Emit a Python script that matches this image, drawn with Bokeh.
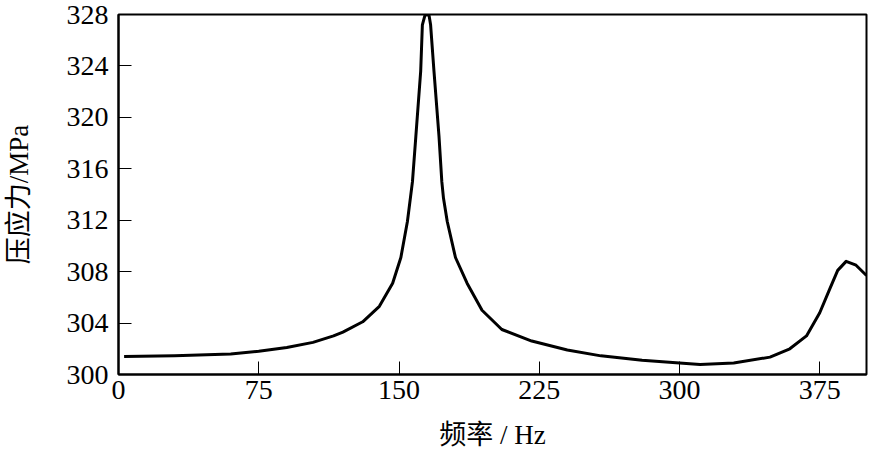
from bokeh.plotting import figure
from bokeh.embed import file_html
from bokeh.resources import INLINE
from bokeh.models import FixedTicker, Range1d

freq = [3, 30, 60, 75, 90, 104, 115, 120, 130.6, 139.5, 146.6, 151, 154.5, 157.2, 159, 161.6,
        162.5, 163.8, 165, 166.1, 166.9, 168.7, 171.4, 172.9, 173.8, 175.8, 180.2, 186.4,
        194.4, 205, 221, 240, 258, 280, 300, 311, 329, 348.4, 359, 367.9, 375, 380.2, 384.6,
        389.1, 394.4, 400]
stress = [301.4, 301.45, 301.6, 301.8, 302.1, 302.5, 303.0, 303.3, 304.1, 305.3, 307.1, 309.1,
          311.9, 315.0, 318.5, 323.6, 327.2, 327.9, 328.0, 327.9, 327.2, 323.6, 318.5, 315.0,
          313.7, 311.9, 309.1, 307.1, 305.0, 303.5, 302.6, 301.9, 301.45, 301.1, 300.9, 300.78,
          300.9, 301.35, 302.0, 303.0, 304.8, 306.6, 308.1, 308.8, 308.5, 307.7]
x_ticks = [0, 75, 150, 225, 300, 375]
y_ticks = [300, 304, 308, 312, 316, 320, 324, 328]

SERIF = "'Liberation Serif', 'Noto Sans CJK SC'"

p = figure(width=869, height=452, output_backend="svg", toolbar_location=None,
           x_range=Range1d(0, 400), y_range=Range1d(300, 328),
           min_border_left=114, min_border_right=3, min_border_top=14, min_border_bottom=76)

p.line(freq, stress, line_color="black", line_width=3, line_join="round")

p.grid.visible = False
p.outline_line_color = "black"
p.outline_line_width = 2
p.outline_line_alpha = 1

p.xaxis.ticker = FixedTicker(ticks=x_ticks)
p.yaxis.ticker = FixedTicker(ticks=y_ticks)
for ax in (p.xaxis[0], p.yaxis[0]):
    ax.axis_line_color = "black"
    ax.axis_line_width = 2
    ax.major_tick_in = 13
    ax.major_tick_out = 0
    ax.major_tick_line_color = "black"
    ax.major_tick_line_width = 1
    ax.minor_tick_line_color = None
    ax.major_label_text_font = SERIF
    ax.major_label_text_font_size = "28px"
    ax.major_label_text_color = "black"
    ax.axis_label_text_font = SERIF
    ax.axis_label_text_font_size = "27px"
    ax.axis_label_text_font_style = "normal"
    ax.axis_label_text_color = "black"

p.xaxis.axis_label = "频率 / Hz"
p.yaxis.axis_label = "压应力/MPa"
p.xaxis.major_label_standoff = 6
p.xaxis.axis_label_standoff = 18
p.yaxis.major_label_standoff = 10
p.yaxis.axis_label_standoff = 30

open("out.html", "w").write(file_html(p, INLINE))
